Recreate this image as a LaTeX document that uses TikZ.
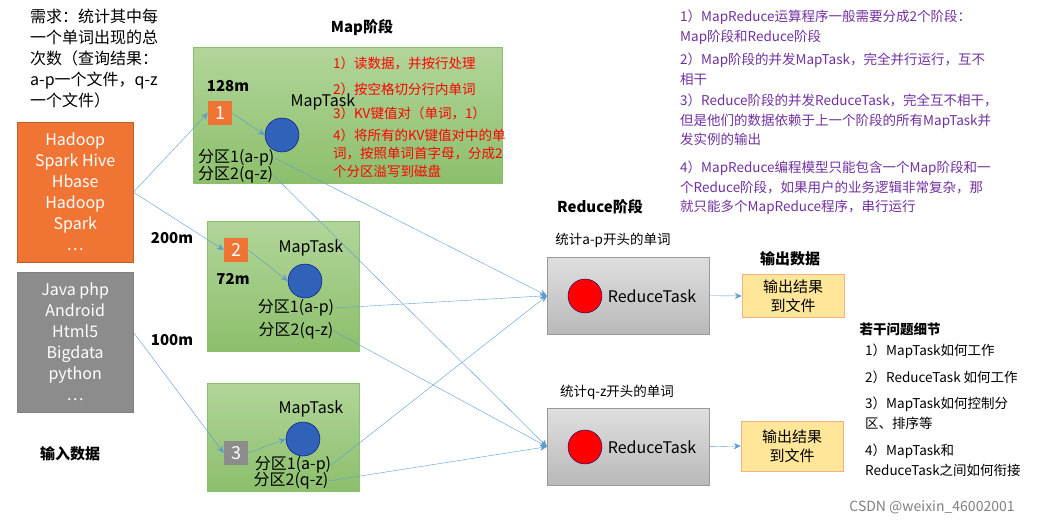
\documentclass[tikz,border=0pt]{standalone}
\usepackage{fontspec}
\setmainfont{Noto Sans CJK SC}
\usetikzlibrary{arrows.meta, positioning}
\definecolor{mapgreen}{HTML}{A9D18E}
\definecolor{mapgreendk}{HTML}{8CBF6C}
\definecolor{boxorange}{HTML}{F07535}
\definecolor{boxgray}{HTML}{8C8C8C}
\definecolor{linkblue}{HTML}{5B9BD5}
\definecolor{notepurple}{HTML}{7030A0}
\definecolor{outfill}{HTML}{FFE699}
\definecolor{outdraw}{HTML}{F4B183}
\definecolor{taskblue}{HTML}{3062BA}
\tikzset{
  txt/.style={font=\fontsize{16}{21}\selectfont, inner sep=0pt},
  hd/.style={font=\fontsize{15}{19}\selectfont\bfseries, inner sep=0pt},
  redtxt/.style={font=\fontsize{13.5}{18}\selectfont, text=red, inner sep=0pt, anchor=west},
  note/.style={font=\fontsize{13.5}{19.5}\selectfont, text=notepurple, inner sep=0pt, anchor=north west, align=left},
  ask/.style={font=\fontsize{13.5}{19.5}\selectfont, inner sep=0pt, anchor=west},
  mapbox/.style={draw=mapgreendk, top color=mapgreen!90, bottom color=mapgreendk, anchor=north west, inner sep=0pt},
  redbox/.style={draw=gray!80, top color=gray!25, bottom color=gray!55, anchor=north west, inner sep=0pt, minimum width=162pt, minimum height=77pt},
  sq/.style={fill=#1, text=white, font=\fontsize{18}{18}\selectfont, minimum size=24pt, inner sep=0pt},
  task/.style={circle, draw=blue!50!black, fill=taskblue, minimum size=34pt, inner sep=0pt},
  rtask/.style={circle, draw=blue!50!black, fill=red, minimum size=34pt, inner sep=0pt},
  outbox/.style={draw=outdraw, fill=outfill, txt, minimum width=102pt, align=center, font=\fontsize{15}{19}\selectfont},
  link/.style={draw=linkblue, -{Stealth[length=7pt,width=6pt]}}
}
\begin{document}
\begin{tikzpicture}[x=1pt,y=-1pt]
\useasboundingbox (0,0) rectangle (1051,526);

% Input
\node[txt, anchor=north west, align=left] (need) at (30,9)
  {需求：统计其中每\\一个单词出现的总\\次数（查询结果：\\a-p一个文件，q-z\\一个文件）};
\node[fill=boxorange, draw=boxorange!80!black, anchor=north west, minimum width=116pt, minimum height=140pt, text=white, txt, align=center] (in1) at (17,122)
  {Hadoop\\Spark Hive\\Hbase\\Hadoop\\Spark\\…};
\node[fill=boxgray, draw=gray, anchor=north west, minimum width=116pt, minimum height=140pt, text=white, txt, align=center] (in2) at (17,272)
  {Java php\\Android\\Html5\\Bigdata\\python\\…};
\node[hd] (input) at (70,454) {输入数据};

% Map stage
\node[hd] (maphd) at (362,28) {Map阶段};
\node[mapbox, minimum width=309pt, minimum height=136pt] (map1) at (193,47) {};
\node[mapbox, minimum width=152pt, minimum height=130pt] (map2) at (207,221) {};
\node[mapbox, minimum width=152pt, minimum height=108pt] (map3) at (207,383) {};
\node[hd] (s1) at (228,86) {128m};
\node[hd] (s2) at (172,238) {200m};
\node[hd] (s3) at (233,279) {72m};
\node[hd] (s4) at (172,340) {100m};

\node[sq=boxorange] (b1) at (220,113) {1};
\node[sq=boxorange] (b2) at (236,250) {2};
\node[sq=boxgray] (b3) at (236,453) {3};
\node[task] (t1) at (282,135) {};
\node[task] (t2) at (305,281) {};
\node[task] (t3) at (303,439) {};
\node[txt] (mt1) at (323,102) {MapTask};
\node[txt] (mt2) at (311,248) {MapTask};
\node[txt] (mt3) at (311,409) {MapTask};
\node[txt, anchor=west] (p11) at (198,158) {分区1(a-p)};
\node[txt, anchor=west] (p12) at (198,175) {分区2(q-z)};
\node[txt] (p21) at (296,308) {分区1(a-p)};
\node[txt] (p22) at (296,331) {分区2(q-z)};
\node[txt] (p31) at (293,465) {分区1(a-p)};
\node[txt] (p32) at (291,481) {分区2(q-z)};

\node[redtxt] (r1) at (333,63) {1）读数据，并按行处理};
\node[redtxt] (r2) at (333,89) {2）按空格切分行内单词};
\node[redtxt] (r3) at (333,113) {3）KV键值对（单词，1）};
\node[redtxt, anchor=north west, align=left] (r4) at (333,129)
  {4）将所有的KV键值对中的单\\词，按照单词首字母，分成2\\个分区溢写到磁盘};

% Reduce stage
\node[hd] (redhd) at (600,207) {Reduce阶段};
\node[txt, font=\fontsize{13.5}{13.5}\selectfont] (c1) at (613,240) {统计a-p开头的单词};
\node[txt, font=\fontsize{13.5}{13.5}\selectfont] (c2) at (617,392) {统计q-z开头的单词};
\node[redbox] (rb1) at (547,257) {};
\node[redbox] (rb2) at (547,408) {};
\node[rtask] (rt1) at (585,296) {};
\node[rtask] (rt2) at (585,447) {};
\node[txt] (rl1) at (652,296) {ReduceTask};
\node[txt] (rl2) at (652,447) {ReduceTask};

% Output
\node[hd] (outhd) at (790,259) {输出数据};
\node[outbox, minimum height=43pt] (o1) at (793,296) {输出结果\\到文件};
\node[outbox, minimum height=50pt] (o2) at (792,446) {输出结果\\到文件};

% Notes
\node[note] (n1) at (680,10) {1）MapReduce运算程序一般需要分成2个阶段：\\Map阶段和Reduce阶段};
\node[note] (n2) at (680,53) {2）Map阶段的并发MapTask，完全并行运行，互不\\相干};
\node[note] (n3) at (680,94) {3）Reduce阶段的并发ReduceTask，完全互不相干，\\但是他们的数据依赖于上一个阶段的所有MapTask并\\发实例的输出};
\node[note] (n4) at (680,161) {4）MapReduce编程模型只能包含一个Map阶段和一\\个Reduce阶段，如果用户的业务逻辑非常复杂，那\\就只能多个MapReduce程序，串行运行};
\node[hd, font=\fontsize{13.5}{13.5}\selectfont\bfseries] (qhd) at (900,329) {若干问题细节};
\node[ask] (q1) at (865,351) {1）MapTask如何工作};
\node[ask] (q2) at (865,377) {2）ReduceTask 如何工作};
\node[ask, anchor=north west, align=left] (q3) at (865,397) {3）MapTask如何控制分\\区、排序等};
\node[ask, anchor=north west, align=left] (q4) at (865,444) {4）MapTask和\\ReduceTask之间如何衔接};
\node[txt, text=gray, font=\fontsize{14}{14}\selectfont] (mark) at (932,507) {CSDN @weixin\_46002001};

% Links
\draw[link] (in1.east) -- (b1.west);
\draw[link] (in1.east) -- (b2.west);
\draw[link] ([yshift=10pt]in2.east) -- (b3.west);
\draw[link] (b1.east) -- (t1.west);
\draw[link] (b2.east) -- (t2.west);
\draw[link] (b3.east) -- (t3.west);
\draw[link] (p11.east) -- (rb1.west);
\draw[link] (p12.east) -- (rb2.west);
\draw[link] (p21.east) -- (rb1.west);
\draw[link] (p22.east) -- (rb2.west);
\draw[link] (p31.east) -- (rb1.west);
\draw[link] (p32.east) -- (rb2.west);
\draw[link] (rb1.east) -- (o1.west);
\draw[link] (rb2.east) -- (o2.west);

\end{tikzpicture}
\end{document}
